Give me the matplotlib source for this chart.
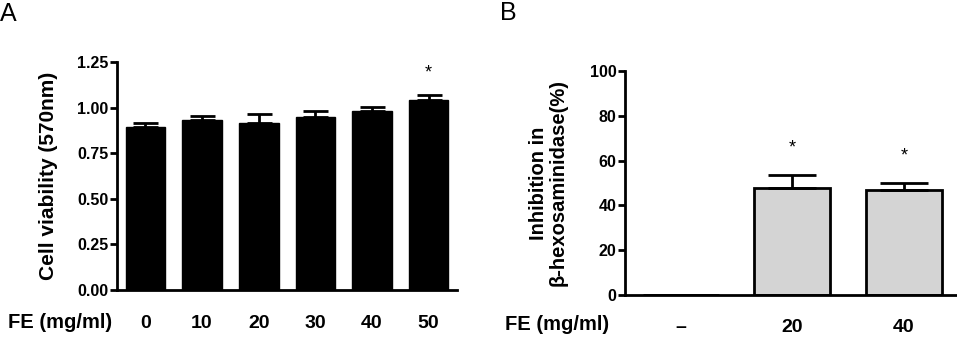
import numpy as np
import matplotlib
matplotlib.use("Agg")
import matplotlib.pyplot as plt

plt.rcParams['font.family'] = ['Liberation Sans', 'DejaVu Sans']
plt.rcParams['font.weight'] = 'bold'
plt.rcParams['axes.labelweight'] = 'bold'

# Panel A data
doses_a = ['0', '10', '20', '30', '40', '50']
viability = [0.894, 0.931, 0.918, 0.949, 0.980, 1.040]
viability_err = [0.024, 0.023, 0.049, 0.033, 0.024, 0.031]
stars_a = ['', '', '', '', '', '*']

# Panel B data
doses_b = ['–', '20', '40']
inhibition = [0.0, 47.8, 46.8]
inhibition_err = [0.0, 5.7, 3.1]
stars_b = ['', '*', '*']

fig = plt.figure(figsize=(9.57, 3.43), dpi=100)
ax_a = fig.add_axes([0.1223, 0.1545, 0.3552, 0.6645])
ax_b = fig.add_axes([0.653, 0.140, 0.350, 0.653])

def style(ax, xpad):
    for side in ['top', 'right']:
        ax.spines[side].set_visible(False)
    for side in ['left', 'bottom']:
        ax.spines[side].set_linewidth(2)
    ax.tick_params(axis='y', width=2, length=5, labelsize=11.5, pad=1)
    ax.tick_params(axis='x', length=0, labelsize=14, pad=xpad)

# Panel A
xa = np.arange(len(doses_a))
ax_a.bar(xa, viability, width=0.7, color='black', edgecolor='black')
ax_a.errorbar(xa, viability, yerr=[np.zeros(len(xa)), viability_err],
              fmt='none', ecolor='black', elinewidth=2, capsize=9, capthick=2)
for x, v, e, s in zip(xa, viability, viability_err, stars_a):
    if s:
        ax_a.text(x, v + e + 0.12, s, ha='center', va='center', fontsize=13,
                  fontweight='normal')
ax_a.set_xlim(-0.5, 5.5)
ax_a.set_ylim(0, 1.25)
ax_a.set_yticks([0, 0.25, 0.5, 0.75, 1.0, 1.25])
ax_a.set_yticklabels(['0.00', '0.25', '0.50', '0.75', '1.00', '1.25'])
ax_a.set_xticks(xa)
ax_a.set_xticklabels(doses_a)
ax_a.set_ylabel('Cell viability (570nm)', fontsize=15, labelpad=14)
style(ax_a, 18)

# Panel B
xb = np.arange(len(doses_b))
ax_b.bar(xb, inhibition, width=0.68, color='#d4d4d4', edgecolor='black',
         linewidth=2)
ax_b.errorbar(xb[1:], inhibition[1:], yerr=[np.zeros(2), inhibition_err[1:]],
              fmt='none', ecolor='black', elinewidth=2, capsize=17, capthick=2)
for x, v, e, s in zip(xb, inhibition, inhibition_err, stars_b):
    if s:
        ax_b.text(x, v + e + 12.0, s, ha='center', va='center', fontsize=13,
                  fontweight='normal')
ax_b.set_xlim(-0.5, 2.5)
ax_b.set_ylim(0, 100)
ax_b.set_yticks([0, 20, 40, 60, 80, 100])
ax_b.set_xticks(xb)
ax_b.set_xticklabels(doses_b)
ax_b.set_ylabel('Inhibition in\nβ-hexosaminidase(%)', fontsize=14.5,
                labelpad=16, linespacing=1.05)
style(ax_b, 17)

# Dose row labels
fig.text(0.008, 1 - 323 / 343, 'FE (mg/ml)', fontsize=14.5, ha='left', va='center')
fig.text(505 / 957, 1 - 325 / 343, 'FE (mg/ml)', fontsize=14.5, ha='left', va='center')

# Panel letters
fig.text(0.0, 0.995, 'A', fontsize=18, fontweight='normal', ha='left', va='top')
fig.text(500 / 957, 1 - 13 / 343, 'B', fontsize=18, fontweight='normal',
         ha='left', va='center')

fig.savefig('out.png', dpi=100)
